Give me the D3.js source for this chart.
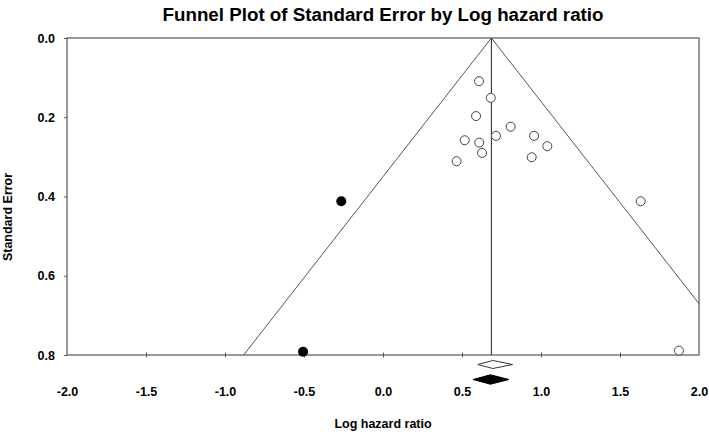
<!DOCTYPE html>
<html>
<head>
<meta charset="utf-8">
<script src="https://cdn.jsdelivr.net/npm/d3@7"></script>
<style>
  body { margin: 0; background: #fff; }
  text { font-family: "Liberation Sans", Arial, sans-serif; font-weight: bold; fill: #000; }
</style>
</head>
<body>
<div id="funnel"></div>
<script>
// observed studies (open circles)
const obsEffect = [0.608, 0.682, 0.589, 0.808, 0.715, 0.956, 0.517, 0.609, 1.040, 0.627, 0.941, 0.466, 1.631, 1.873];
const obsSE     = [0.109, 0.151, 0.197, 0.224, 0.247, 0.247, 0.258, 0.264, 0.273, 0.290, 0.301, 0.311, 0.412, 0.789];
// imputed studies (filled circles)
const impEffect = [-0.264, -0.506];
const impSE     = [0.412, 0.792];
// pooled estimate and diamonds [point, lower, upper]
const pooled = 0.686;
const obsDiamond = [0.695, 0.600, 0.820];
const adjDiamond = [0.680, 0.570, 0.797];
const xTicks = [-2.0, -1.5, -1.0, -0.5, 0.0, 0.5, 1.0, 1.5, 2.0];
const yTicks = [0.0, 0.2, 0.4, 0.6, 0.8];

const W = 709, H = 432;
const margin = {top: 38, right: 10, bottom: 77, left: 67};

const svg = d3.select("#funnel").append("svg")
  .attr("width", W).attr("height", H);

const x = d3.scaleLinear().domain([-2, 2]).range([margin.left, W - margin.right]);
const y = d3.scaleLinear().domain([0, 0.8]).range([margin.top, H - margin.bottom]);

// plain hyphen for negatives, like the original
const fmt = d => d3.format(".1f")(d).replace("\u2212", "-");

// clip for funnel lines
svg.append("clipPath").attr("id", "plotclip")
  .append("rect")
    .attr("x", x(-2)).attr("y", y(0))
    .attr("width", x(2) - x(-2)).attr("height", y(0.8) - y(0));

// title
svg.append("text")
  .attr("x", (x(-2) + x(2)) / 2).attr("y", 21)
  .attr("text-anchor", "middle")
  .style("font-size", "18px")
  .attr("textLength", 441).attr("lengthAdjust", "spacingAndGlyphs")
  .text("Funnel Plot of Standard Error by Log hazard ratio");

// funnel
const funnel = svg.append("g").attr("clip-path", "url(#plotclip)");
funnel.append("path")
  .attr("fill", "none").attr("stroke", "#555").attr("stroke-width", 1)
  .attr("d", d3.line()([
    [x(pooled - 1.96 * 0.8), y(0.8)],
    [x(pooled), y(0)],
    [x(pooled + 1.96 * 0.8), y(0.8)]
  ]));
funnel.append("line")
  .attr("x1", x(pooled)).attr("x2", x(pooled))
  .attr("y1", y(0)).attr("y2", y(0.8))
  .attr("stroke", "#222").attr("stroke-width", 1);

// frame
svg.append("rect")
  .attr("x", x(-2)).attr("y", y(0))
  .attr("width", x(2) - x(-2)).attr("height", y(0.8) - y(0))
  .attr("fill", "none").attr("stroke", "#555").attr("stroke-width", 1.2);

// y axis
const yAxis = svg.append("g")
  .attr("transform", `translate(${x(-2)},0)`)
  .call(d3.axisLeft(y).tickValues(yTicks).tickFormat(fmt).tickSize(3).tickPadding(9));
yAxis.select(".domain").remove();
yAxis.selectAll("line").attr("stroke", "#555");
yAxis.selectAll("text").style("font-size", "12.5px").style("font-family", null);

// x axis: ticks crossing the bottom line
const xAxis = svg.append("g")
  .attr("transform", `translate(0,${y(0.8) - 2.5})`)
  .call(d3.axisBottom(x).tickValues(xTicks).tickFormat(fmt).tickSize(5).tickPadding(30));
xAxis.select(".domain").remove();
xAxis.selectAll("line").attr("stroke", "#555");
xAxis.selectAll(".tick").filter(d => d === -2 || d === 2).select("line").remove();
xAxis.selectAll("text").style("font-size", "12.5px").style("font-family", null);

// axis titles
svg.append("text")
  .attr("x", (x(-2) + x(2)) / 2).attr("y", 428)
  .attr("text-anchor", "middle").style("font-size", "12.5px")
  .text("Log hazard ratio");
svg.append("text")
  .attr("transform", "translate(12,217) rotate(-90)")
  .attr("text-anchor", "middle").style("font-size", "12.5px")
  .text("Standard Error");

// points
const obs = obsEffect.map((d, i) => ({e: d, se: obsSE[i]}));
const imp = impEffect.map((d, i) => ({e: d, se: impSE[i]}));
svg.append("g").selectAll("circle").data(obs).join("circle")
  .attr("cx", d => x(d.e)).attr("cy", d => y(d.se)).attr("r", 4.5)
  .attr("fill", "#fff").attr("stroke", "#444").attr("stroke-width", 1);
svg.append("g").selectAll("circle").data(imp).join("circle")
  .attr("cx", d => x(d.e)).attr("cy", d => y(d.se)).attr("r", 5)
  .attr("fill", "#000");

// diamonds
function diamond(v, cy, h) {
  return d3.line()([
    [x(v[1]), cy], [x(v[0]), cy - h], [x(v[2]), cy], [x(v[0]), cy + h]
  ]) + "Z";
}
svg.append("path").attr("d", diamond(obsDiamond, 364.5, 4))
  .attr("fill", "#fff").attr("stroke", "#333").attr("stroke-width", 1);
svg.append("path").attr("d", diamond(adjDiamond, 379.5, 4.7))
  .attr("fill", "#000").attr("stroke", "#000").attr("stroke-width", 1);
</script>
</body>
</html>
